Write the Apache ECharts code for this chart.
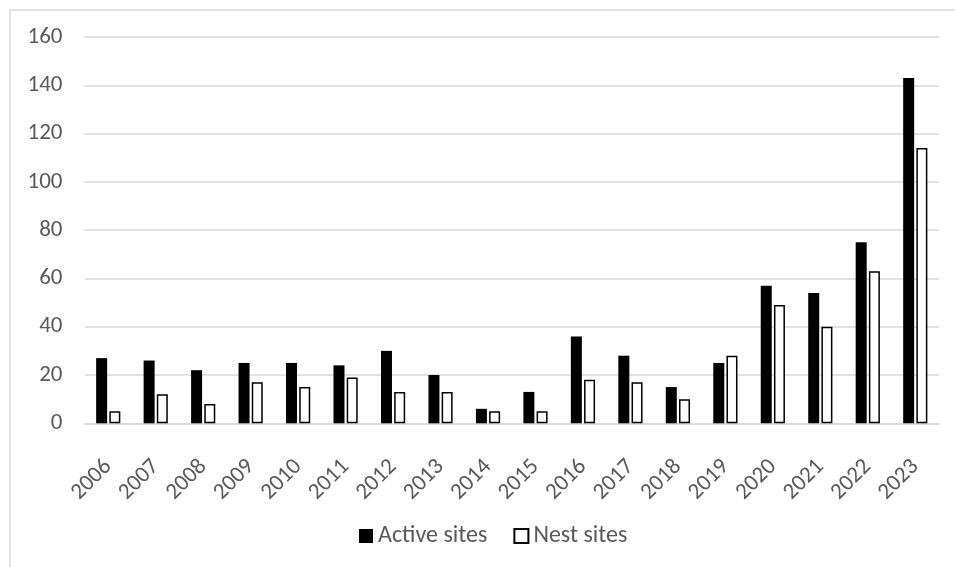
<!DOCTYPE html>
<html>
<head>
<meta charset="utf-8">
<style>
  html, body { margin: 0; padding: 0; background: #ffffff; }
  #chart { width: 955px; height: 567px; }
</style>
<script src="https://cdn.jsdelivr.net/npm/echarts@6/dist/echarts.min.js"></script>
</head>
<body>
<div id="chart"></div>
<script>
// Survey years
const years = ['2006','2007','2008','2009','2010','2011','2012','2013','2014',
               '2015','2016','2017','2018','2019','2020','2021','2022','2023'];
// Count of active sites per year
const activeSites = [27, 26, 22, 25, 25, 24, 30, 20, 6, 13, 36, 28, 15, 25, 57, 54, 75, 143];
// Count of nest sites per year
const nestSites = [5, 12, 8, 17, 15, 19, 13, 13, 5, 5, 18, 17, 10, 28, 49, 40, 63, 114];
// Value axis range
const yMin = 0, yMax = 160, yStep = 20;

const FONT = 'Carlito, Calibri, "Open Sans", sans-serif';
const TEXT = '#595959';
const GRID = '#d9d9d9';

const chart = echarts.init(document.getElementById('chart'), null, { renderer: 'canvas' });
chart.setOption({
  animation: false,
  backgroundColor: '#ffffff',
  textStyle: { fontFamily: FONT },
  graphic: [{
    type: 'rect',
    left: 7.5, top: 7.5,
    shape: { x: 0, y: 0, width: 1000, height: 600 },
    style: { fill: 'none', stroke: GRID, lineWidth: 1.5 },
    silent: true
  }],
  grid: { left: 84.5, right: 16, top: 37, bottom: 143.7, containLabel: false },
  legend: {
    top: 524,
    left: 359,
    padding: 0,
    itemWidth: 14,
    itemHeight: 14,
    itemGap: 26,
    icon: 'rect',
    textStyle: { color: TEXT, fontSize: 24, fontFamily: FONT },
    data: ['Active sites', 'Nest sites']
  },
  xAxis: {
    type: 'category',
    data: years,
    axisLine: { show: true, lineStyle: { color: GRID, width: 1.5 } },
    axisTick: { show: false },
    axisLabel: {
      rotate: 45,
      interval: 0,
      color: TEXT,
      fontSize: 23,
      fontFamily: FONT,
      margin: 40
    }
  },
  yAxis: {
    type: 'value',
    min: yMin, max: yMax, interval: yStep,
    axisLine: { show: false },
    axisTick: { show: false },
    splitLine: { lineStyle: { color: GRID, width: 1.5 } },
    axisLabel: { color: TEXT, fontSize: 23, fontFamily: FONT, margin: 22 }
  },
  series: [
    {
      name: 'Active sites',
      type: 'bar',
      data: activeSites,
      barWidth: 11,
      barGap: '20%',
      itemStyle: { color: '#000000' }
    },
    {
      name: 'Nest sites',
      type: 'bar',
      data: nestSites,
      barWidth: 11,
      barGap: '20%',
      itemStyle: { color: '#ffffff', borderColor: '#000000', borderWidth: 1.5 }
    }
  ]
});
</script>
</body>
</html>
